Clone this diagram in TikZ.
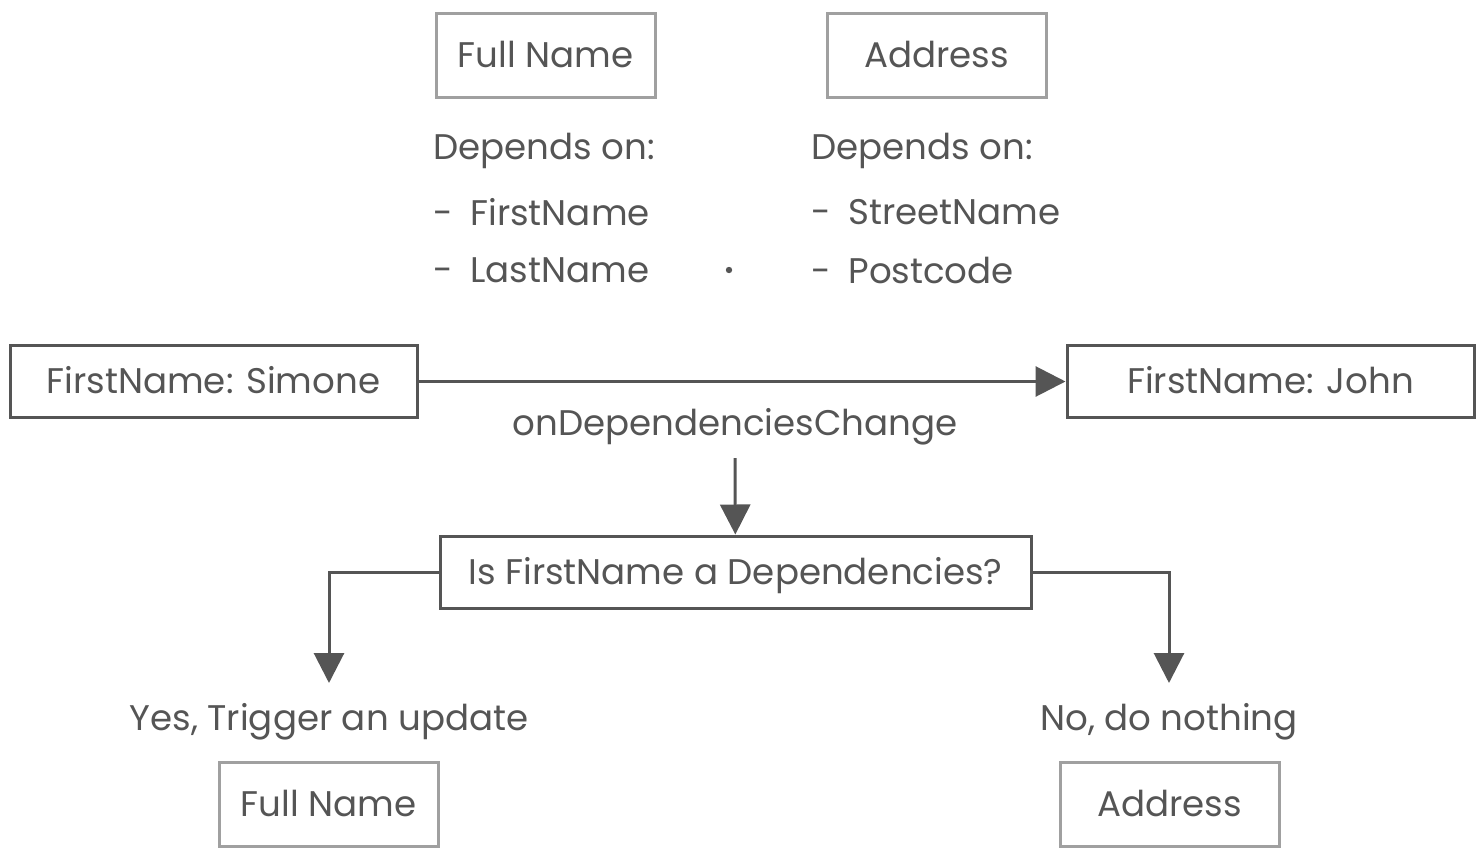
\documentclass[tikz,border=0pt]{standalone}
\usepackage{fontspec}
\setmainfont{Poppins}
\usetikzlibrary{arrows.meta}
\definecolor{inkgrey}{HTML}{555555}
\definecolor{lightgrey}{HTML}{A0A0A0}
\newcommand{\bullit}[1]{\makebox[18.5pt][l]{-}#1}
\begin{document}
\begin{tikzpicture}
  [
    x=0.5pt, y=-0.5pt,
    every node/.style={text=inkgrey, font=\fontsize{17.8}{21}\selectfont, inner sep=0pt},
    lightbox/.style={draw=lightgrey, line width=1.5pt, minimum width=109.5pt, minimum height=42pt,
      text height=12.4pt, text depth=0pt},
    darkbox/.style={draw=inkgrey, line width=1.5pt, minimum height=36pt,
      text height=12.4pt, text depth=0pt},
    lbl/.style={anchor=west},
    flow/.style={draw=inkgrey, line width=1.5pt, -{Triangle[length=15pt,width=15pt]}}
  ]
  \useasboundingbox (0,0) rectangle (1484,857);
  % what each field depends on
  \node[lightbox] (fullname) at (545.5,55) {Full Name};
  \node[lightbox] (address) at (936.5,55) {Address};
  \node[lbl] (depleft) at (433,151) {Depends on:};
  \node[lbl] (first) at (433,212) {\bullit{FirstName}};
  \node[lbl] (last) at (433,270) {\bullit{LastName}};
  \node[lbl] (depright) at (811,151) {Depends on:};
  \node[lbl] (street) at (811,212) {\bullit{StreetName}};
  \node[lbl] (post) at (811,270) {\bullit{Postcode}};
  \fill[inkgrey] (729,270) circle (1.6pt);
  % the change
  \node[darkbox, minimum width=203.5pt] (simone) at (213.5,381.5) {FirstName: Simone};
  \node[darkbox, minimum width=203.5pt] (john) at (1270.5,381.5) {FirstName: John};
  \draw[flow] (simone) -- (john);
  \node (change) at (735,427) {onDependenciesChange};
  \coordinate (drop) at (735,458);
  \node[darkbox, minimum width=295.5pt] (question) at (735.5,572) {Is FirstName a Dependencies?};
  \draw[flow] (drop) -- (question);
  % the two answers
  \coordinate (yesend) at (329,683);
  \coordinate (noend) at (1169,683);
  \draw[flow] (question.west) -| (yesend);
  \draw[flow] (question.east) -| (noend);
  \node (yes) at (329,722) {Yes, Trigger an update};
  \node (no) at (1169,722) {No, do nothing};
  \node[lightbox] (fullname2) at (328.5,804) {Full Name};
  \node[lightbox] (address2) at (1169.5,804) {Address};
\end{tikzpicture}
\end{document}
